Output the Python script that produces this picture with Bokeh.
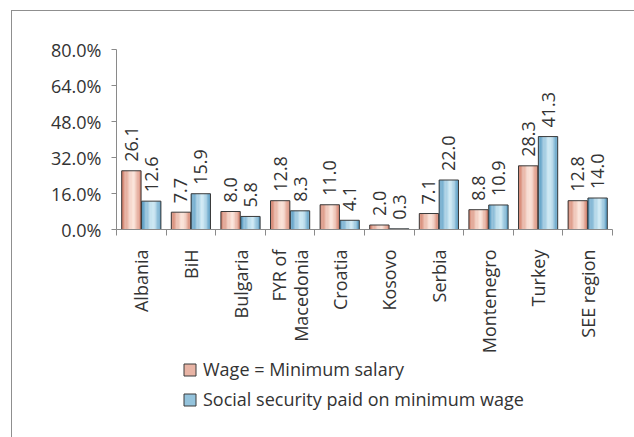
import numpy as np
from bokeh.plotting import figure
from bokeh.layouts import column
from bokeh.models import (ColumnDataSource, FixedTicker, PrintfTickFormatter,
                          Legend, LegendItem, Range1d)
from bokeh.transform import dodge
from bokeh.embed import file_html
from bokeh.resources import INLINE
from bokeh.core.properties import value

# ---- data ----
categories = ["Albania", "BiH", "Bulgaria", "FYR of\nMacedonia", "Croatia",
              "Kosovo", "Serbia", "Montenegro", "Turkey", "SEE region"]
wage = [26.1, 7.7, 8.0, 12.8, 11.0, 2.0, 7.1, 8.8, 28.3, 12.8]
social = [12.6, 15.9, 5.8, 8.3, 4.1, 0.3, 22.0, 10.9, 41.3, 14.0]
series_names = ["Wage = Minimum salary", "Social security paid on minimum wage"]
y_ticks = [0, 16, 32, 48, 64, 80]

FONT = "Open Sans"
TXT = "#333333"
AXIS = "#8a8a8a"

xpos = [i + 0.5 for i in range(len(categories))]
src = ColumnDataSource(dict(
    x=xpos, wage=wage, social=social,
    wage_lbl=["%.1f" % v for v in wage],
    social_lbl=["%.1f" % v for v in social],
))

p = figure(width=622, height=345,
           x_range=Range1d(0, len(categories)), y_range=Range1d(0, 80),
           output_backend="svg", toolbar_location=None,
           min_border_left=104, min_border_top=38, min_border_right=22,
           min_border_bottom=125)
p.grid.visible = False
p.outline_line_color = None
p.background_fill_color = "white"
p.border_fill_color = "white"

# legend figure (below the chart)
pl = figure(width=622, height=81, x_range=Range1d(0, 1), y_range=Range1d(0, 1),
            output_backend="svg", toolbar_location=None,
            min_border=0, outline_line_color=None)
pl.axis.visible = False
pl.grid.visible = False
pl.border_fill_color = "white"

# bars with simulated horizontal gradient
W = 0.39
offs = [-0.2, 0.2]
cols = ["wage", "social"]
edges = [(208, 122, 100), (78, 148, 190)]
lights = [(251, 228, 218), (206, 233, 244)]
N = 15
legend_items = []
for s in range(2):
    e = np.array(edges[s]); l = np.array(lights[s])
    for i in range(N):
        f = (i + 0.5) / N
        f0 = 0.6
        d = abs(f - f0) / (f0 if f < f0 else 1 - f0)
        t = 1 - d ** 1.3
        c = e + (l - e) * t
        col = "#%02x%02x%02x" % tuple(int(round(v)) for v in c)
        sw = W / N
        cx = offs[s] - W / 2 + (i + 0.5) * sw
        p.vbar(x=dodge("x", cx, range=p.x_range), top=cols[s], bottom=0,
               width=sw * 1.15, source=src, fill_color=col, line_color=None)
    p.vbar(x=dodge("x", offs[s], range=p.x_range), top=cols[s], bottom=0,
           width=W, source=src, fill_alpha=0, line_color="#3a3a3a", line_width=1)
    p.text(x=dodge("x", offs[s], range=p.x_range), y=cols[s], text=cols[s] + "_lbl",
           source=src, angle=np.pi / 2, text_align="left", text_baseline="middle",
           y_offset=-9, text_font=value(FONT), text_font_size="18px",
           text_color=TXT)
    # legend swatch renderers (placed outside the visible data area)
    mid = e + (l - e) * 0.55
    midc = "#%02x%02x%02x" % tuple(int(round(v)) for v in mid)
    r = pl.rect(x=[-5], y=[-5], width=1, height=1, fill_color=midc,
                line_color="#3a3a3a", line_width=1)
    legend_items.append(LegendItem(label=series_names[s], renderers=[r]))

# axes
xa = p.xaxis[0]
xa.ticker = FixedTicker(ticks=xpos, minor_ticks=list(range(len(categories) + 1)))
xa.major_label_overrides = {xp: c for xp, c in zip(xpos, categories)}
xa.major_label_orientation = np.pi / 2
xa.major_tick_out = 0
xa.major_tick_in = 0
xa.minor_tick_out = 6
xa.minor_tick_in = 0
xa.minor_tick_line_color = AXIS
xa.axis_line_color = AXIS
xa.major_label_standoff = 14
xa.major_label_text_font = FONT
xa.major_label_text_font_size = "18px"
xa.major_label_text_color = TXT
xa.major_label_text_line_height = 0.9

ya = p.yaxis[0]
ya.ticker = FixedTicker(ticks=y_ticks)
ya.formatter = PrintfTickFormatter(format="%.1f%%")
ya.major_tick_out = 5
ya.major_tick_in = 0
ya.minor_tick_line_color = None
ya.major_tick_line_color = AXIS
ya.axis_line_color = AXIS
ya.major_label_standoff = 10
ya.major_label_text_font = FONT
ya.major_label_text_font_size = "18px"
ya.major_label_text_color = TXT

legend = Legend(items=legend_items, orientation="vertical", location=(64, 24),
                glyph_width=15, glyph_height=15, label_standoff=6,
                label_text_font=FONT, label_text_font_size="18px",
                label_text_color=TXT, spacing=6, padding=2, margin=0,
                border_line_alpha=0, background_fill_alpha=0)
pl.add_layout(legend)

lay = column(p, pl, spacing=0)
lay.styles = {"margin-left": "11px", "margin-top": "10px",
              "border-left": "1px solid #8f8f8f", "border-top": "1px solid #8f8f8f"}

open("out.html", "w").write(file_html(lay, INLINE))
